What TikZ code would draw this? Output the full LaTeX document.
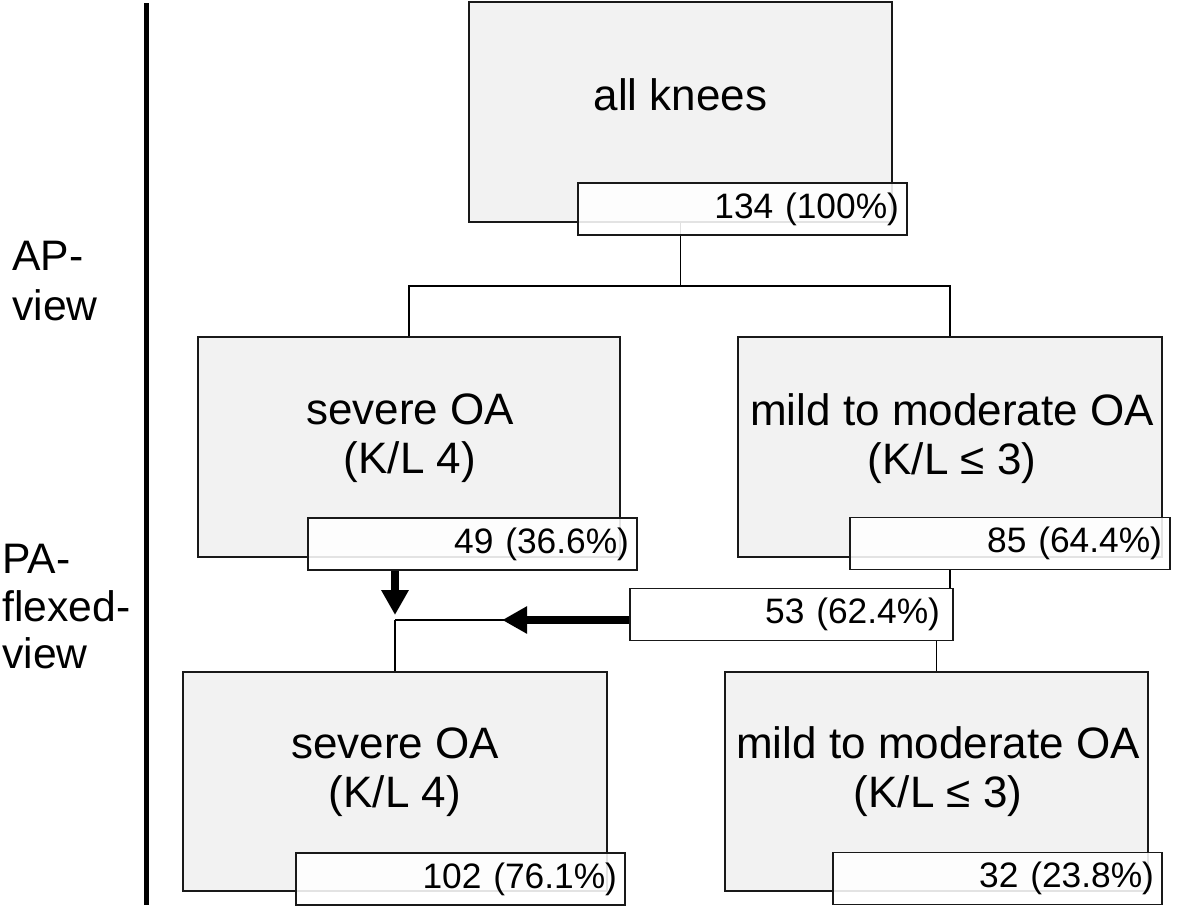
\documentclass[tikz,border=0pt]{standalone}
\usepackage{fontspec}
\setmainfont{Liberation Sans}
\usetikzlibrary{arrows.meta}
\definecolor{boxgray}{RGB}{242,242,242}
\definecolor{edge}{RGB}{25,25,25}
\begin{document}
\begin{tikzpicture}[x=0.75pt,y=-0.75pt,
  mainbox/.style={draw=edge, line width=1.2pt, fill=boxgray, inner sep=0pt},
  mtext/.style={font=\fontsize{33}{38}\selectfont, anchor=base, inner sep=0pt},
  side/.style={font=\fontsize{32}{37}\selectfont, anchor=base west, inner sep=0pt},
  lbl/.style={draw=edge, line width=1.2pt, fill=white, fill opacity=0.88, text opacity=1,
    minimum height=39pt, inner xsep=6pt, inner ysep=0pt, align=right,
    font=\fontsize{26.5}{30}\selectfont},
  conn/.style={draw=black, line width=1.2pt},
  fat/.style={draw=black, line width=6pt, -{Triangle[length=18.75pt,width=19.5pt]}}]
\useasboundingbox (0,0) rectangle (1181,908);

% side axis
\coordinate (axtop) at (146,3);
\coordinate (axbot) at (146,905);
\draw[line width=3.75pt] (axtop) -- (axbot);
\node[side] (ap1) at (12,270) {AP-};
\node[side] (ap2) at (12,320) {view};
\node[side] (pa1) at (2,573) {PA-};
\node[side] (pa2) at (2,621) {flexed-};
\node[side] (pa3) at (2,668) {view};

% main boxes
\node[mainbox, minimum width=317.25pt, minimum height=165pt] (top) at (680.5,112) {};
\node[mainbox, minimum width=316.5pt, minimum height=165pt] (tl) at (409,447) {};
\node[mainbox, minimum width=318pt, minimum height=165pt] (tr) at (950,447) {};
\node[mainbox, minimum width=318pt, minimum height=164.25pt] (bl) at (395,781.5) {};
\node[mainbox, minimum width=317.25pt, minimum height=164.25pt] (br) at (936.5,781.5) {};

\node[mtext] (ttop) at (680.5,110) {all knees};
\node[mtext] (ttl1) at (410,424) {severe OA};
\node[mtext] (ttl2) at (410,473) {(K/L 4)};
\node[mtext] (ttr1) at (952,425) {mild to moderate OA};
\node[mtext] (ttr2) at (952,474) {(K/L ≤ 3)};
\node[mtext] (tbl1) at (395,758) {severe OA};
\node[mtext] (tbl2) at (395,807) {(K/L 4)};
\node[mtext] (tbr1) at (938,758) {mild to moderate OA};
\node[mtext] (tbr2) at (938,807) {(K/L ≤ 3)};

% connectors (drawn below the count boxes)
\coordinate (jtop) at (680.5,286);
\draw[conn] (top.south) -- (jtop);
\draw[conn] (tl.north) -- (tl.north |- jtop) -- (tr.north |- jtop) -- (tr.north);

% count boxes
\node[lbl, minimum width=246.75pt, text width=234.75pt] (n134) at (742.5,209) {134 (100\%)};
\node[lbl, minimum width=246.75pt, text width=234.75pt] (n49) at (472.5,544) {49 (36.6\%)};
\node[lbl, minimum width=240pt, text width=228pt] (n85) at (1010,543.5) {85 (64.4\%)};
\node[lbl, minimum width=242.25pt, text width=222.75pt] (n53) at (791.5,614.5) {53 (62.4\%)};
\node[lbl, minimum width=246.75pt, text width=234.75pt] (n102) at (460.5,879) {102 (76.1\%)};
\node[lbl, minimum width=246.75pt, text width=234.75pt] (n32) at (997.5,878.5) {32 (23.8\%)};

% lower connectors
\draw[conn] (tr.south |- n85.south) -- (tr.south |- n53.north);
\draw[conn] (br.north |- n53.south) -- (br.north);
\path (n53.west) ++(0,5.5) coordinate (src53);
\coordinate (jn) at (bl.north |- src53);
\path (jn) ++(0,-5) coordinate (tipd);
\path (src53) ++(-127,0) coordinate (tipl);
\draw[conn] (src53) -- (jn);
\draw[conn] (jn) -- (bl.north);
\draw[fat] (src53) -- (tipl);
\draw[fat] (n49.south -| bl.north) -- (tipd);
\end{tikzpicture}
\end{document}
